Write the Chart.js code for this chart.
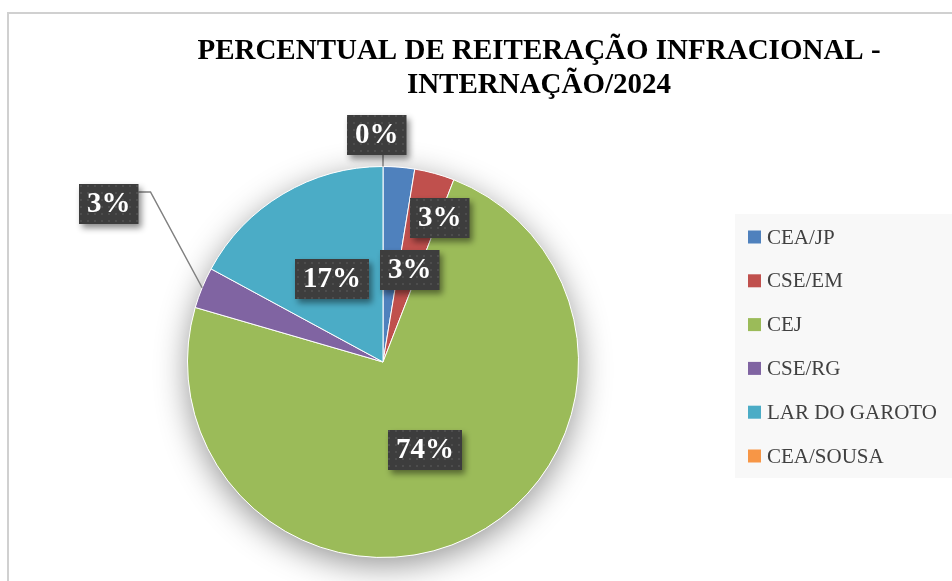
<!DOCTYPE html>
<html>
<head>
<meta charset="utf-8">
<script src="https://cdn.jsdelivr.net/npm/chart.js@4.4.1/dist/chart.umd.min.js"></script>
<style>
  body { margin: 0; background: #fff; }
  canvas { display: block; }
</style>
</head>
<body>
<canvas id="chart" width="952" height="581"></canvas>
<script>
// dados do gráfico
const categorias = ['CEA/JP', 'CSE/EM', 'CEJ', 'CSE/RG', 'LAR DO GAROTO', 'CEA/SOUSA'];
const percentuais = [2.6, 3.3, 73.6, 3.4, 17.1, 0];
const cores = ['#4F81BD', '#C0504D', '#9BBB59', '#8064A2', '#4BACC6', '#F79646'];
const tituloLinhas = ['PERCENTUAL DE REITERAÇÃO INFRACIONAL -', 'INTERNAÇÃO/2024'];

// posição dos rótulos (desvio em graus e distância relativa ao raio)
const rotuloDesvio = [17, 1, 1, 7.7, -1, -1.5];
const rotuloDist = [0.79, 0.49, 0.5, 1.62, 0.5, 1.16];

// padrão pontilhado das caixas dos rótulos
function criarPadrao(ctx) {
    const tile = document.createElement('canvas');
    tile.width = 7;
    tile.height = 7;
    const t = tile.getContext('2d');
    t.fillStyle = '#3d3d3d';
    t.fillRect(0, 0, 7, 7);
    t.fillStyle = '#4d4d4d';
    t.fillRect(3, 3, 2, 2);
    return ctx.createPattern(tile, 'repeat');
}

// moldura, título e sombra da pizza
const fundoPlugin = {
    id: 'fundo',
    beforeDatasetsDraw(chart) {
        const ctx = chart.ctx;
        ctx.save();
        ctx.strokeStyle = '#d0d0d0';
        ctx.lineWidth = 2;
        ctx.strokeRect(8, 13, 960, 600);

        ctx.fillStyle = '#000';
        ctx.font = 'bold 29px "Liberation Serif"';
        ctx.textAlign = 'center';
        ctx.textBaseline = 'alphabetic';
        ctx.fillText(tituloLinhas[0], 539, 59);
        ctx.fillText(tituloLinhas[1], 539, 93);

        const arc = chart.getDatasetMeta(0).data[0];
        const p = arc.getProps(['x', 'y', 'outerRadius'], true);
        ctx.shadowColor = 'rgba(0,0,0,0.42)';
        ctx.shadowBlur = 32;
        ctx.shadowOffsetY = 8;
        ctx.fillStyle = '#fff';
        ctx.beginPath();
        ctx.arc(p.x, p.y, p.outerRadius, 0, Math.PI * 2);
        ctx.fill();
        ctx.restore();
    }
};

// rótulos de percentual e legenda
const rotulosPlugin = {
    id: 'rotulos',
    afterDatasetsDraw(chart) {
        const ctx = chart.ctx;
        const meta = chart.getDatasetMeta(0);
        const total = percentuais.reduce((a, b) => a + b, 0);
        const padrao = criarPadrao(ctx);

        meta.data.forEach((arc, i) => {
            const p = arc.getProps(['x', 'y', 'startAngle', 'endAngle', 'outerRadius'], true);
            const meio = (p.startAngle + p.endAngle) / 2;
            const ang = meio + rotuloDesvio[i] * Math.PI / 180;
            const cx = p.x + Math.cos(ang) * p.outerRadius * rotuloDist[i];
            const cy = p.y + Math.sin(ang) * p.outerRadius * rotuloDist[i];
            const texto = Math.round(percentuais[i] / total * 100) + '%';

            ctx.save();
            ctx.font = 'bold 29px "Liberation Serif"';
            const w = ctx.measureText(texto).width + 16;
            const h = 40;
            const bx = Math.round(cx - w / 2);
            const by = Math.round(cy - h / 2);

            // linha de chamada para rótulos fora da pizza
            if (rotuloDist[i] > 1) {
                const ax = p.x + Math.cos(meio) * p.outerRadius;
                const ay = p.y + Math.sin(meio) * p.outerRadius;
                ctx.strokeStyle = '#808080';
                ctx.lineWidth = 1.5;
                ctx.beginPath();
                if (ax > bx + w) {
                    ctx.moveTo(bx + w, by + 8);
                    ctx.lineTo(bx + w + 12, by + 8);
                    ctx.lineTo(ax, ay);
                } else {
                    ctx.moveTo(ax, by + h);
                    ctx.lineTo(ax, ay);
                }
                ctx.stroke();
            }

            ctx.shadowColor = 'rgba(0,0,0,0.45)';
            ctx.shadowBlur = 6;
            ctx.shadowOffsetX = 3;
            ctx.shadowOffsetY = 4;
            ctx.fillStyle = padrao;
            ctx.fillRect(bx, by, w, h);
            ctx.shadowColor = 'transparent';

            ctx.fillStyle = '#fff';
            ctx.textAlign = 'center';
            ctx.textBaseline = 'middle';
            ctx.fillText(texto, bx + w / 2, by + h / 2 + 1);
            ctx.restore();
        });

        // legenda
        ctx.save();
        ctx.fillStyle = '#f8f8f8';
        ctx.fillRect(735, 214, 220, 264);
        ctx.font = '21px "Liberation Serif"';
        ctx.textBaseline = 'middle';
        ctx.textAlign = 'left';
        categorias.forEach((nome, i) => {
            const yy = 237 + i * 43.8;
            ctx.fillStyle = cores[i];
            ctx.fillRect(748, yy - 6.5, 13, 13);
            ctx.fillStyle = '#404040';
            ctx.fillText(nome, 767, yy + 1);
        });
        ctx.restore();
    }
};

new Chart(document.getElementById('chart'), {
    type: 'pie',
    data: {
        labels: categorias,
        datasets: [{
            data: percentuais,
            backgroundColor: cores,
            borderColor: '#ffffff',
            borderWidth: 1
        }]
    },
    options: {
        responsive: false,
        animation: false,
        devicePixelRatio: 1,
        layout: { padding: { left: 187, right: 373, top: 166, bottom: 23 } },
        plugins: {
            legend: { display: false },
            title: { display: false },
            tooltip: { enabled: false }
        }
    },
    plugins: [fundoPlugin, rotulosPlugin]
});
</script>
</body>
</html>
